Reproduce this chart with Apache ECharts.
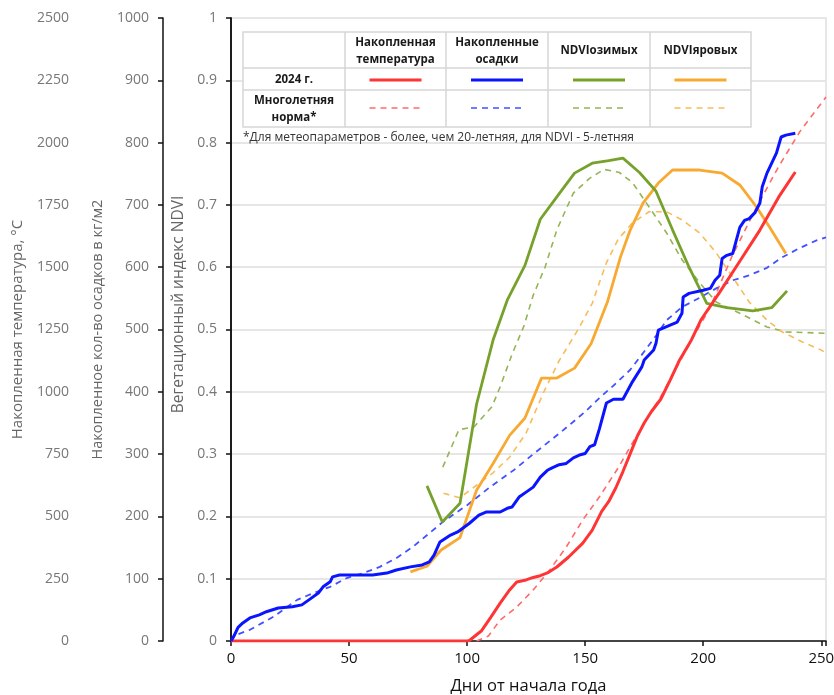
<!DOCTYPE html>
<html><head><meta charset="utf-8">
<script src="https://cdn.jsdelivr.net/npm/echarts@6/dist/echarts.min.js"></script>
<style>html,body{margin:0;padding:0;background:#fff}#c{width:834px;height:695px}</style>
</head><body><div id="c"></div>
<script>
// ---- data: [day of year, value] ----
const tempActual = [[0,0],[100,0],[101,2],[104,25],[106,40],[110,95],[114,152],[118,205],[121,237],[125,245],[128,255],[131,262],[134,273],[138,297],[143,337],[149,393],[153,445],[157,520],[160,560],[163,615],[166,680],[169,750],[172,820],[175,875],[178,920],[182,970],[186,1047],[190,1128],[195,1208],[199,1288],[207,1400],[215,1517],[224,1649],[232,1782],[239,1882]];
const tempNorm = [[104,0],[109,20],[114,84],[121,136],[128,205],[135,285],[142,377],[149,486],[156,578],[164,695],[169,778],[175,875],[182,980],[190,1120],[197,1240],[203,1340],[212,1540],[222,1730],[232,1905],[241,2045],[252,2183]];
const precActual = [[0,0],[1,6],[3,22],[5,29],[8,37],[12,42],[15,47],[20,53],[26,55],[30,58],[33,66],[37,77],[39,87],[42,95],[43,103],[46,106],[60,106],[66,109],[70,114],[76,119],[81,122],[84,127],[86,138],[88.5,159],[93,170],[96,175],[101,189],[105,202],[108,207],[114,207],[117,213],[119,215],[122,231],[125,239],[128,247],[131,263],[134,274],[136,278],[139,283],[142,285],[145,294],[148,299],[150,301],[152,312],[154,315],[156,340],[159,382],[162,388],[166,388],[170,416],[174,440],[175,451],[179,467],[180,478],[181,499],[184,504],[189,512],[191,526],[191.5,552],[194,558],[200,563],[203,566],[205,579],[207,587],[208,614],[210,619],[212.5,622],[214,643],[215.5,664],[217.5,675],[219.5,678],[222,688],[224,703],[225,729],[227,751],[229,767],[231,783],[233,809],[235,812],[239,815]];
const precNorm = [[0,0],[1,8],[8,18],[18,39],[28,66],[35,77],[42,87],[49,101],[56,109],[63,119],[70,133],[77,151],[84,173],[90,192],[100,218],[110,248],[120,275],[128,300],[139,333],[145,352],[150,368],[156,390],[162,410],[169,435],[174.5,462],[180,490],[184.5,515],[191,536],[198.5,551],[205.5,566],[212.5,579],[219.5,587],[227,599],[233.5,616],[241,631],[248,643],[252,648]];
const ndviWinter = [[83,0.249],[89.5,0.191],[97,0.221],[104,0.38],[111,0.483],[117,0.547],[124.5,0.603],[131,0.677],[138,0.713],[145.5,0.751],[153,0.767],[160,0.771],[166,0.775],[173,0.752],[180,0.722],[187,0.66],[194,0.6],[201.5,0.542],[210,0.535],[221,0.53],[229,0.535],[235.5,0.562]];
const ndviWinterNorm = [[89.7,0.279],[96.5,0.339],[103,0.344],[110.5,0.376],[114,0.408],[119,0.46],[124,0.505],[128,0.555],[133,0.6],[138,0.66],[145,0.719],[152,0.743],[158,0.757],[164.5,0.752],[170,0.736],[177,0.697],[184.5,0.655],[191,0.612],[198.5,0.575],[205.5,0.544],[215.5,0.526],[227,0.504],[235,0.496],[252,0.494]];
const ndviSpring = [[76,0.111],[83,0.12],[89,0.146],[97,0.166],[104,0.242],[111,0.285],[118,0.33],[124.5,0.358],[131.5,0.422],[138,0.422],[145.5,0.438],[152.5,0.477],[159.5,0.545],[165,0.617],[169,0.659],[174.5,0.703],[181,0.735],[187,0.756],[198.5,0.756],[208,0.751],[215.5,0.732],[222.5,0.697],[228,0.665],[235,0.622]];
const ndviSpringNorm = [[90,0.237],[97,0.23],[104,0.25],[111,0.27],[118,0.295],[125,0.334],[132.5,0.4],[139,0.45],[147,0.5],[153,0.542],[156,0.575],[159,0.607],[164,0.645],[170,0.671],[177,0.689],[184.5,0.689],[191,0.676],[198.5,0.655],[205.5,0.623],[212.5,0.584],[219.5,0.544],[227,0.515],[233.5,0.496],[242,0.48],[250,0.467],[252,0.462]];

const headers = ['Накопленная\nтемпература','Накопленные\nосадки','NDVIозимых','NDVIяровых'];
const rowLabels = ['2024 г.','Многолетняя\nнорма*'];
const footnote = '*Для метеопараметров - более, чем 20-летняя, для NDVI - 5-летняя';

const C = {
  red:'#ff3535', redL:'#ff6b6b',
  blue:'#0a14ff', blueL:'#4250ff',
  green:'#76a22c', greenL:'#93b556',
  orange:'#f8a932', orangeL:'#f7bc5c'
};
const solidCols = [C.red,C.blue,C.green,C.orange];
const dashCols = [C.redL,C.blueL,C.greenL,C.orangeL];

const FONT = '"Open Sans", "Noto Sans", sans-serif';
const axisGray = '#777';

function yAx(min,max,interval,offset,name,gap,size,pad){
  return {
    type:'value', position:'left', offset:offset, min:min, max:max, interval:interval,
    name:name, nameLocation:'middle', nameGap:gap,
    nameTextStyle:{color:'#666', fontSize:size, fontFamily:FONT, padding:pad||0},
    axisLine:{show:true, lineStyle:{color:'#111', width:1.5}},
    axisTick:{show:true, length:5, lineStyle:{color:'#111', width:1.5}},
    axisLabel:{color:axisGray, fontSize:14, fontFamily:FONT, margin:14, formatter:v=>String(Math.round(v*10)/10)},
    splitLine:{show:false}
  };
}
const yAxes = [
  yAx(0,2500,250,148,'Накопленная температура, °С',58,15),
  yAx(0,1000,100,68,'Накопленное кол-во осадков в кг/м2',58,14.5),
  yAx(0,1,0.1,0,'Вегетационный индекс NDVI',44,15.5,[0,0,0,50])
];
yAxes[2].splitLine = {show:true, lineStyle:{color:'#e6e6e6', width:2}};

function ln(name,data,yi,color,dashed,w,z){
  return {name:name,type:'line',data:data,yAxisIndex:yi,showSymbol:false,symbol:'none',
    lineStyle:{color:color,width:w,type:dashed?[6,5]:'solid'},z:z,silent:true,animation:false};
}
const series = [
  ln('tn',tempNorm,0,C.redL,true,1.6,3),
  ln('pn',precNorm,1,C.blueL,true,1.8,3),
  ln('wn',ndviWinterNorm,2,C.greenL,true,1.6,3),
  ln('sn',ndviSpringNorm,2,C.orangeL,true,1.6,3),
  ln('sa',ndviSpring,2,C.orange,false,2.8,4),
  ln('wa',ndviWinter,2,C.green,false,2.8,4),
  ln('ta',tempActual,0,C.red,false,3,5),
  ln('pa',precActual,1,C.blue,false,3,6)
];

// ---- legend table (graphic) ----
const tb = {cols:[243,345,446,548,650,751], rows:[32,68,90,127]};
const g = [];
g.push({type:'rect', shape:{x:tb.cols[0], y:tb.rows[0], width:tb.cols[5]-tb.cols[0], height:tb.rows[3]-tb.rows[0]},
  style:{fill:'#fff', stroke:'#d6d6d6', lineWidth:1.5}, z:100});
tb.cols.slice(1,5).forEach(x=>g.push({type:'line', shape:{x1:x,y1:tb.rows[0],x2:x,y2:tb.rows[3]}, style:{stroke:'#d6d6d6',lineWidth:1.5}, z:101}));
tb.rows.slice(1,3).forEach(y=>g.push({type:'line', shape:{x1:tb.cols[0],y1:y,x2:tb.cols[5],y2:y}, style:{stroke:'#d6d6d6',lineWidth:1.5}, z:101}));
function txt(t,x,y,size,bold,color,align){
  return {type:'text', x:x, y:y, z:102, style:{text:t, fill:color||'#1a1a1a', font:(bold?'bold ':'')+size+'px '+FONT,
    textAlign:align||'center', textVerticalAlign:'middle', align:align||'center', verticalAlign:'middle', lineHeight:17}};
}
headers.forEach((h,i)=>{
  const cx=(tb.cols[i+1]+tb.cols[i+2])/2;
  g.push(txt(h,cx,(tb.rows[0]+tb.rows[1])/2+1,11.5,true));
  g.push({type:'line', shape:{x1:cx-26,y1:80,x2:cx+26,y2:80}, style:{stroke:solidCols[i],lineWidth:3}, z:102});
  g.push({type:'line', shape:{x1:cx-26,y1:108,x2:cx+26,y2:108}, style:{stroke:dashCols[i],lineWidth:1.6,lineDash:[6,5]}, z:102});
});
g.push(txt(rowLabels[0],(tb.cols[0]+tb.cols[1])/2,80,11.5,true));
g.push(txt(rowLabels[1],(tb.cols[0]+tb.cols[1])/2,109,11.5,true));
g.push(txt(footnote,243,138,12,false,'#333','left'));

const chart = echarts.init(document.getElementById('c'));
chart.setOption({
  animation:false,
  backgroundColor:'#fff',
  grid:{left:231,right:8,top:18,bottom:54,show:true,borderColor:'#e0e0e0',borderWidth:1.5,containLabel:false,outerBoundsMode:'none'},
  xAxis:{type:'value',min:0,max:252,interval:50,
    name:'Дни от начала года',nameLocation:'middle',nameGap:37,
    nameTextStyle:{color:'#111',fontSize:16.5,fontFamily:FONT},
    axisLine:{show:true,onZero:false,lineStyle:{color:'#111',width:1.5}},
    axisTick:{show:true,length:5,lineStyle:{color:'#111',width:1.5}},
    axisLabel:{color:'#111',fontSize:15,fontFamily:FONT,margin:10,
      formatter:v=> (v%50===0? String(v):'')},
    splitLine:{show:false}},
  yAxis:yAxes,
  series:series,
  graphic:g
});
</script></body></html>
